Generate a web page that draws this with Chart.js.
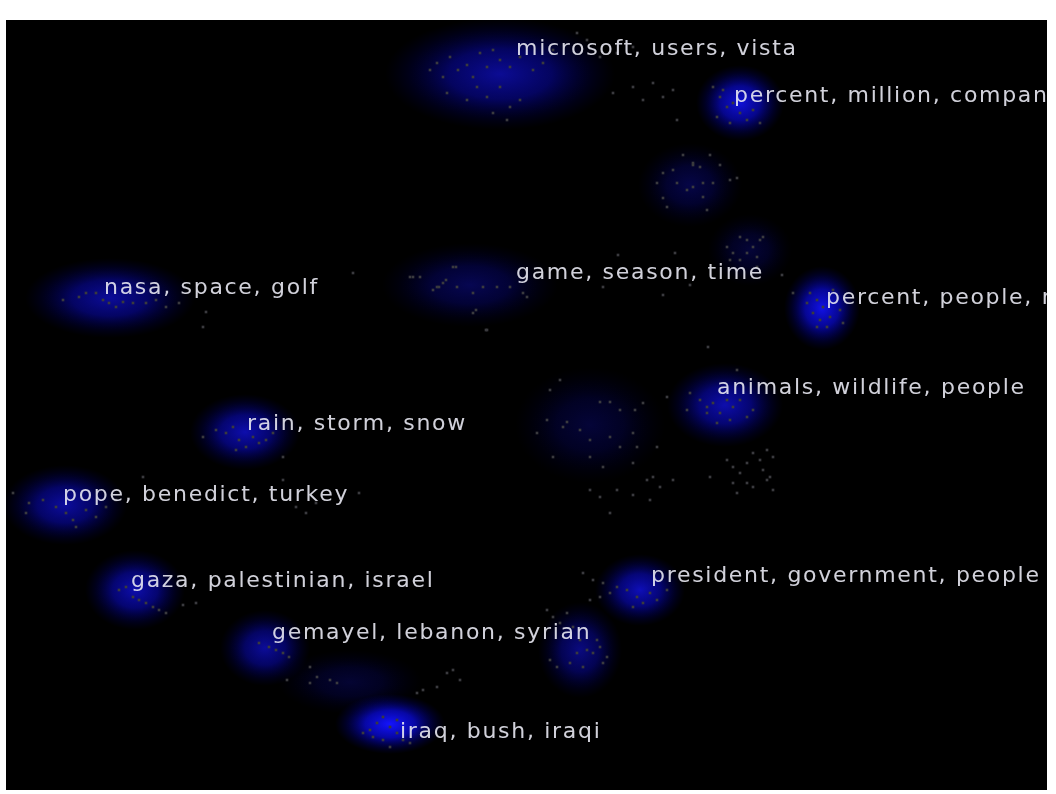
<!DOCTYPE html>
<html>
<head>
<meta charset="utf-8">
<script src="https://cdn.jsdelivr.net/npm/chart.js@4/dist/chart.umd.min.js"></script>
<style>
  html, body { margin: 0; padding: 0; background: #ffffff; }
  #wrap { position: relative; width: 1056px; height: 794px; }
</style>
</head>
<body>
<div id="wrap"><canvas id="c"></canvas></div>
<script>
// ---------- DATA (map coordinates) ----------
// Topic labels and the position where each label starts
const topicLabels = [
  "microsoft, users, vista",
  "percent, million, company",
  "game, season, time",
  "percent, people, million",
  "nasa, space, golf",
  "animals, wildlife, people",
  "rain, storm, snow",
  "pope, benedict, turkey",
  "gaza, palestinian, israel",
  "president, government, people",
  "gemayel, lebanon, syrian",
  "iraq, bush, iraqi"
];
const labelX = [516, 734, 516, 826, 104, 717, 247, 63, 131, 651, 272, 400];
const labelY = [49, 96, 273, 298, 288, 388, 424, 495, 581, 576, 633, 732];

// Cluster density centres, spreads and strengths
const glowX  = [500, 740, 690, 750, 470, 822, 110, 245, 65, 135, 265, 350, 580, 640, 390, 725, 590];
const glowY  = [74, 103, 185, 250, 285, 308, 298, 432, 505, 590, 648, 682, 650, 590, 724, 405, 425];
const glowRX = [115, 44, 52, 42, 88, 38, 85, 55, 62, 50, 45, 72, 42, 45, 55, 58, 75];
const glowRY = [56, 38, 42, 36, 42, 42, 40, 38, 40, 40, 38, 32, 48, 36, 30, 42, 58];
const glowA  = [0.58, 0.85, 0.28, 0.22, 0.32, 0.9, 0.6, 0.68, 0.62, 0.68, 0.6, 0.2, 0.5, 0.72, 1.0, 0.68, 0.22];

// Document points per cluster
const ptsMicrosoft = [[430,70],[437,63],[443,77],[450,57],[458,70],[467,65],[473,77],[480,53],[487,67],[493,50],[500,60],[510,67],[520,57],[533,70],[543,63],[467,100],[477,87],[487,97],[500,87],[510,107],[520,100],[493,113],[507,120],[447,93],[553,50],[577,33],[587,40],[600,57],[617,53],[633,47],[613,93],[633,87],[653,83],[663,97],[673,90],[677,120],[643,100]];
const ptsPercentMillion = [[713,87],[720,97],[727,107],[733,103],[740,113],[747,120],[753,110],[760,123],[717,117],[730,123],[723,90]];
const ptsUpperMid = [[683,155],[693,163],[700,167],[710,155],[720,165],[663,173],[673,170],[677,183],[687,190],[693,187],[703,183],[713,183],[730,180],[737,178],[657,183],[663,198],[667,207],[703,197],[707,210],[693,165]];
const ptsRightMid = [[740,237],[747,240],[753,247],[760,240],[763,237],[727,247],[733,253],[747,253],[757,257],[740,260],[730,260],[757,267]];
const ptsGame = [[410,277],[420,277],[437,287],[443,283],[457,287],[473,293],[483,287],[497,287],[510,287],[523,293],[527,297],[453,267],[473,313],[487,330],[433,290],[618,255],[675,253],[603,287],[663,295],[690,285],[782,275],[793,293],[353,273],[413,277],[439,287],[446,280],[456,267],[476,310],[486,330]];
const ptsPercentPeople = [[810,293],[817,300],[823,307],[813,313],[820,320],[830,317],[840,310],[843,323],[833,290],[807,303],[827,327],[817,327]];
const ptsNasa = [[63,300],[79,297],[86,293],[103,300],[109,303],[116,307],[123,302],[133,303],[146,303],[156,300],[166,307],[179,303],[206,312],[203,327],[96,293]];
const ptsAnimals = [[690,393],[700,400],[707,407],[713,403],[720,413],[727,400],[733,407],[740,400],[747,417],[753,410],[730,420],[717,423],[737,370],[687,410],[707,413],[727,460],[733,467],[740,473],[747,463],[753,453],[760,460],[767,450],[773,457],[747,483],[753,487],[767,480],[773,490],[733,483],[737,493],[763,470],[770,477],[710,477]];
const ptsCentre = [[537,433],[550,390],[560,380],[547,420],[563,427],[567,422],[580,430],[590,440],[600,402],[610,402],[620,410],[610,437],[620,447],[633,433],[637,447],[590,457],[603,467],[553,457],[657,447],[633,463],[647,480],[653,477],[667,397],[643,403],[635,410],[673,480],[660,487],[590,490],[600,497],[617,490],[633,495],[650,500],[610,513],[708,347]];
const ptsRain = [[216,430],[226,433],[233,427],[239,440],[246,447],[253,437],[259,443],[266,440],[273,433],[236,450],[203,437],[283,457]];
const ptsPope = [[29,503],[43,500],[56,507],[66,513],[73,520],[76,527],[86,510],[96,517],[106,507],[116,500],[13,493],[143,477],[26,513],[283,480],[296,507],[306,513],[316,503],[359,493]];
const ptsGaza = [[119,590],[126,587],[133,597],[139,600],[146,603],[153,607],[159,610],[166,613],[183,605],[196,603]];
const ptsGemayel = [[259,643],[269,647],[276,650],[283,653],[289,657],[287,680],[310,683],[317,677],[330,680],[337,683],[417,693],[423,690],[437,687],[447,673],[453,670],[460,680],[310,667]];
const ptsSyrian = [[547,610],[553,617],[560,623],[567,613],[573,627],[580,640],[587,650],[593,653],[600,647],[607,657],[570,663],[583,667],[577,653],[550,660],[557,667],[597,640],[603,663]];
const ptsPresident = [[583,573],[593,580],[603,583],[617,587],[627,590],[637,597],[643,603],[650,593],[657,600],[667,590],[633,607],[610,593],[600,597],[590,600]];
const ptsIraq = [[363,733],[370,730],[377,723],[383,717],[390,727],[397,733],[403,740],[410,743],[383,740],[390,747],[373,737],[397,720]];

const clusters = [ptsMicrosoft, ptsPercentMillion, ptsUpperMid, ptsRightMid, ptsGame, ptsPercentPeople, ptsNasa, ptsAnimals, ptsCentre, ptsRain, ptsPope, ptsGaza, ptsGemayel, ptsSyrian, ptsPresident, ptsIraq];

// ---------- CHART ----------
const datasets = clusters.map(pts => ({
  data: pts.map(p => ({ x: p[0], y: p[1] })),
  pointStyle: 'rect',
  pointRadius: 1.9,
  pointBorderWidth: 0,
  backgroundColor: 'rgb(58,58,62)',
  showLine: false
}));

const mapPlugin = {
  id: 'mapPlugin',
  beforeDatasetsDraw(chart) {
    const { ctx, chartArea: a, scales: { x, y } } = chart;
    ctx.save();
    ctx.fillStyle = '#000000';
    ctx.fillRect(a.left, a.top, a.right - a.left, a.bottom - a.top);
    ctx.beginPath();
    ctx.rect(a.left, a.top, a.right - a.left, a.bottom - a.top);
    ctx.clip();
    ctx.globalCompositeOperation = 'lighter';
    for (let i = 0; i < glowX.length; i++) {
      const cx = x.getPixelForValue(glowX[i]);
      const cy = y.getPixelForValue(glowY[i]);
      const rx = Math.abs(x.getPixelForValue(glowX[i] + glowRX[i]) - cx);
      const ry = Math.abs(y.getPixelForValue(glowY[i] + glowRY[i]) - cy);
      ctx.save();
      ctx.translate(cx, cy);
      ctx.scale(rx / ry, 1);
      const g = ctx.createRadialGradient(0, 0, 0, 0, 0, ry);
      const al = glowA[i];
      g.addColorStop(0, `rgba(20,20,255,${al})`);
      g.addColorStop(0.45, `rgba(10,10,230,${al * 0.72})`);
      g.addColorStop(0.8, `rgba(0,0,160,${al * 0.25})`);
      g.addColorStop(1, 'rgba(0,0,120,0)');
      ctx.fillStyle = g;
      ctx.beginPath();
      ctx.arc(0, 0, ry, 0, Math.PI * 2);
      ctx.fill();
      ctx.restore();
    }
    ctx.restore();
  },
  afterDatasetsDraw(chart) {
    const { ctx, chartArea: a, scales: { x, y } } = chart;
    ctx.save();
    ctx.beginPath();
    ctx.rect(a.left, a.top, a.right - a.left, a.bottom - a.top);
    ctx.clip();
    ctx.font = '22px "DejaVu Sans", sans-serif';
    if ('letterSpacing' in ctx) ctx.letterSpacing = '1.7px';
    ctx.textAlign = 'left';
    ctx.textBaseline = 'middle';
    ctx.fillStyle = 'rgba(232,232,242,0.9)';
    for (let i = 0; i < topicLabels.length; i++) {
      ctx.fillText(topicLabels[i], x.getPixelForValue(labelX[i]), y.getPixelForValue(labelY[i]));
    }
    ctx.restore();
  }
};

new Chart(document.getElementById('c'), {
  type: 'scatter',
  data: { datasets },
  options: {
    responsive: true,
    maintainAspectRatio: false,
    animation: false,
    layout: { padding: { left: 6, top: 20, right: 9, bottom: 4 } },
    plugins: { legend: { display: false }, tooltip: { enabled: false } },
    scales: {
      x: { type: 'linear', min: 6, max: 1047, display: false },
      y: { type: 'linear', min: 20, max: 790, reverse: true, display: false }
    }
  },
  plugins: [mapPlugin]
});
</script>
</body>
</html>
